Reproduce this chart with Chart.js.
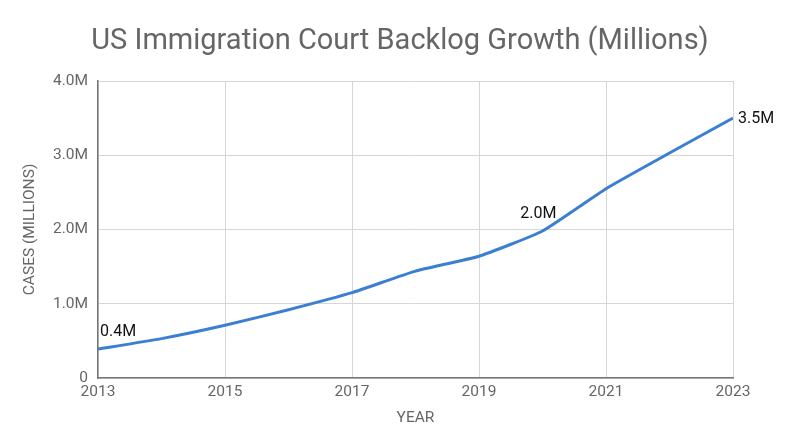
<!DOCTYPE html>
<html><head><meta charset="utf-8">
<script src="https://cdn.jsdelivr.net/npm/chart.js@4"></script>
<style>html,body{margin:0;padding:0;background:#fff}#wrap{width:800px;height:447px}</style>
</head><body><div id="wrap"><canvas id="c" width="800" height="447"></canvas></div>
<script>
const years = [2013, 2014, 2015, 2016, 2017, 2018, 2019, 2020, 2021, 2022, 2023];
const backlog = [0.39, 0.53, 0.71, 0.92, 1.15, 1.44, 1.64, 1.98, 2.55, 3.03, 3.5];
const pointLabels = {0: '0.4M', 7: '2.0M', 10: '3.5M'};
const yTickLabels = {0: '0', 1: '1.0M', 2: '2.0M', 3: '3.0M', 4: '4.0M'};
const chartTitle = 'US Immigration Court Backlog Growth (Millions)';
const FONT = 'Roboto, "Noto Sans", sans-serif';

const labelPlugin = {
  id: 'pointLabels',
  afterDatasetsDraw(chart) {
    const ctx = chart.ctx;
    const meta = chart.getDatasetMeta(0);
    ctx.save();
    ctx.font = '16px ' + FONT;
    ctx.fillStyle = '#111';
    ctx.textBaseline = 'alphabetic';
    Object.keys(pointLabels).forEach(k => {
      const i = +k; const p = meta.data[i];
      const t = pointLabels[k];
      if (i === 0) { ctx.textAlign = 'left'; ctx.fillText(t, p.x + 2, p.y - 13); }
      else if (i === years.length - 1) { ctx.textAlign = 'left'; ctx.textBaseline = 'middle'; ctx.fillText(t, p.x + 5, p.y + 1); }
      else { ctx.textAlign = 'right'; ctx.fillText(t, p.x + 14, p.y - 13); }
    });
    ctx.fillStyle = '#666';
    ctx.font = '29px ' + FONT;
    ctx.textAlign = 'center';
    ctx.textBaseline = 'middle';
    ctx.fillText(chartTitle, 400, 42);
    ctx.restore();
  }
};

new Chart(document.getElementById('c'), {
  type: 'line',
  data: { datasets: [{
    data: years.map((y, i) => ({x: y, y: backlog[i]})),
    borderColor: '#3a7fd2', borderWidth: 3, pointRadius: 0, tension: 0.15, fill: false
  }]},
  options: {
    responsive: false, animation: false,
    layout: { padding: { left: 21, right: 67, top: 81, bottom: 20 } },
    plugins: { legend: { display: false }, tooltip: { enabled: false }, title: { display: false } },
    scales: {
      x: { type: 'linear', min: 2013, max: 2023,
        afterFit: s => { s.height = 447 - 378 - 20; },
        ticks: { stepSize: 2, color: '#666', font: { family: FONT, size: 15.5 }, padding: 5,
          callback: v => String(v) },
        grid: { color: '#d6d6d6', drawTicks: false },
        border: { color: '#777', width: 1.5 },
        title: { display: true, text: 'YEAR', color: '#666', font: { family: FONT, size: 15.5 }, padding: { top: 4, bottom: 0 } }
      },
      y: { min: 0, max: 4,
        afterFit: s => { s.width = 98 - 21; },
        ticks: { stepSize: 1, color: '#666', font: { family: FONT, size: 15.5 }, padding: 10,
          callback: v => yTickLabels[v] },
        grid: { color: '#d6d6d6', drawTicks: false },
        border: { color: '#777', width: 1.5 },
        title: { display: true, text: 'CASES (MILLIONS)', color: '#666', font: { family: FONT, size: 15.5 }, padding: { top: 0, bottom: 4 } }
      }
    }
  },
  plugins: [labelPlugin]
});
</script></body></html>
